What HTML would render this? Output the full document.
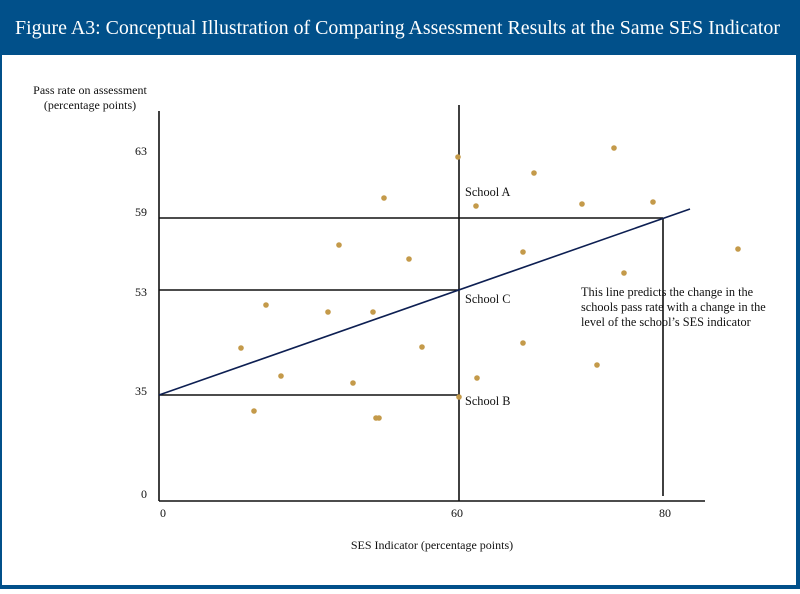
<!DOCTYPE html>
<html><head><style>
body{margin:0;width:800px;height:589px;overflow:hidden;background:#fff}
svg text{font-family:"Liberation Serif",serif;fill:#111}
</style></head><body>
<svg width="800" height="589" viewBox="0 0 800 589" xmlns="http://www.w3.org/2000/svg">
<rect x="0" y="0" width="800" height="589" fill="#01508a"/>
<rect x="2" y="55" width="794" height="530" fill="#fff"/>
<text x="15" y="34" font-size="20" textLength="765" lengthAdjust="spacingAndGlyphs" style="fill:#fff">Figure A3: Conceptual Illustration of Comparing Assessment Results at the Same SES Indicator</text>
<text x="90" y="94" text-anchor="middle" font-size="12">Pass rate on assessment</text>
<text x="90" y="109" text-anchor="middle" font-size="12">(percentage points)</text>
<g stroke="#111" stroke-width="1.6" fill="none">
<line x1="159" y1="111" x2="159" y2="501"/>
<line x1="159" y1="501" x2="705" y2="501"/>
<line x1="459" y1="105" x2="459" y2="501"/>
<line x1="663" y1="218" x2="663" y2="496"/>
<line x1="159" y1="218" x2="663" y2="218"/>
<line x1="159" y1="290" x2="459" y2="290"/>
<line x1="159" y1="395" x2="459" y2="395"/>
</g>
<line x1="159" y1="395" x2="690" y2="209" stroke="#0d1f52" stroke-width="1.6"/>
<g font-size="12" text-anchor="end">
<text x="147" y="155">63</text><text x="147" y="216">59</text><text x="147" y="296">53</text><text x="147" y="395">35</text><text x="147" y="498">0</text>
</g>
<g font-size="12" text-anchor="middle">
<text x="163" y="517">0</text><text x="457" y="517">60</text><text x="665" y="517">80</text>
<text x="432" y="549">SES Indicator (percentage points)</text>
</g>
<g font-size="12.3">
<text x="465" y="196">School A</text>
<text x="465" y="303">School C</text>
<text x="465" y="405">School B</text>
<text x="581" y="296">This line predicts the change in the</text>
<text x="581" y="311">schools pass rate with a change in the</text>
<text x="581" y="326">level of the school’s SES indicator</text>
</g>
<g fill="#c49a4a">
<circle cx="458" cy="157" r="2.8"/><circle cx="614" cy="148" r="2.8"/><circle cx="534" cy="173" r="2.8"/><circle cx="384" cy="198" r="2.8"/><circle cx="476" cy="206" r="2.8"/><circle cx="582" cy="204" r="2.8"/><circle cx="653" cy="202" r="2.8"/><circle cx="339" cy="245" r="2.8"/><circle cx="409" cy="259" r="2.8"/><circle cx="523" cy="252" r="2.8"/><circle cx="738" cy="249" r="2.8"/><circle cx="624" cy="273" r="2.8"/><circle cx="266" cy="305" r="2.8"/><circle cx="328" cy="312" r="2.8"/><circle cx="373" cy="312" r="2.8"/><circle cx="422" cy="347" r="2.8"/><circle cx="241" cy="348" r="2.8"/><circle cx="523" cy="343" r="2.8"/><circle cx="597" cy="365" r="2.8"/><circle cx="281" cy="376" r="2.8"/><circle cx="353" cy="383" r="2.8"/><circle cx="477" cy="378" r="2.8"/><circle cx="254" cy="411" r="2.8"/><circle cx="376" cy="418" r="2.8"/><circle cx="379" cy="418" r="2.8"/><circle cx="459" cy="397" r="2.8"/>
</g>
</svg>
</body></html>
